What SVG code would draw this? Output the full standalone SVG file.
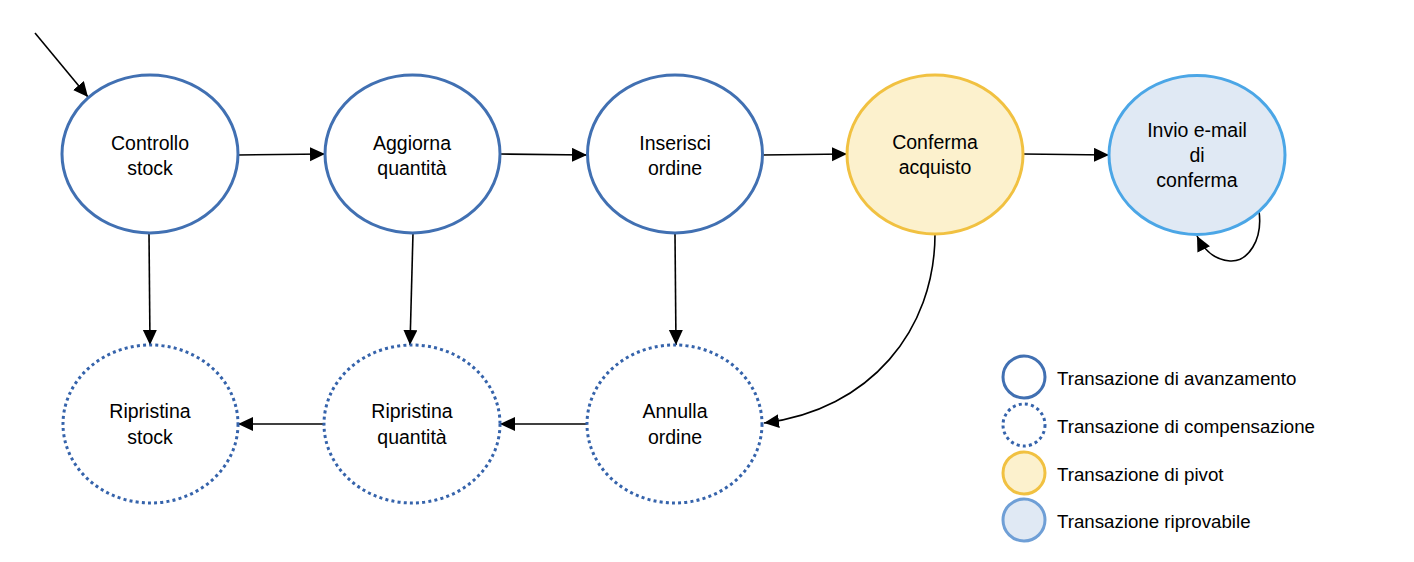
<svg xmlns="http://www.w3.org/2000/svg" width="1414" height="562" viewBox="0 0 1414 562">
<style>
text{font-family:"Liberation Sans",Arial,sans-serif;font-size:19.5px;fill:#000;text-anchor:middle}
.fw{fill:#fff;stroke:#4170b2;stroke-width:3}
.cmp{fill:#fff;stroke:#3563ab;stroke-width:3;stroke-dasharray:3 3.2}
.piv{fill:#fcf1cd;stroke:#f1c141;stroke-width:3}
.rt{fill:#e0e9f4;stroke:#4ba6e6;stroke-width:3}
.rtl{fill:#e0e9f4;stroke:#6f9fd6;stroke-width:3}
.c{fill:none;stroke:#000;stroke-width:1.6;marker-end:url(#ah)}
.lg{text-anchor:start;font-size:18.7px}
</style>
<defs>
<marker id="ah" markerUnits="userSpaceOnUse" markerWidth="16" markerHeight="15" refX="15" refY="7" orient="auto">
<path d="M0,0 L15,7 L0,14 z" fill="#000"/>
</marker>
</defs>
<rect width="1414" height="562" fill="#fff"/>
<g id="connectors">
<path class="c" d="M35,33 L88,97"/>
<path class="c" d="M238,155 L325,154"/>
<path class="c" d="M500,154 L587,155"/>
<path class="c" d="M762,155 L847,154"/>
<path class="c" d="M1023,154 L1109,155"/>
<path class="c" d="M149,233 L150,345"/>
<path class="c" d="M413,233 L410,345"/>
<path class="c" d="M675,234 L676,345"/>
<path class="c" d="M935,234 C935,330 870,410 764,423"/>
<path class="c" d="M1259,211 C1263,240 1248,262 1230,261 C1215,260 1204,250 1197,236"/>
<path class="c" d="M587,424 L500,424"/>
<path class="c" d="M324,424 L238,424"/>
</g>
<g id="controllo-stock"><ellipse class="fw" cx="150" cy="154" rx="88" ry="79"/><text x="150" y="150">Controllo</text><text x="150" y="175">stock</text></g>
<g id="aggiorna-quantita"><ellipse class="fw" cx="412.5" cy="154" rx="87.5" ry="79"/><text x="412" y="150">Aggiorna</text><text x="412" y="175">quantità</text></g>
<g id="inserisci-ordine"><ellipse class="fw" cx="675" cy="154" rx="87.5" ry="79"/><text x="675" y="150">Inserisci</text><text x="675" y="175">ordine</text></g>
<g id="conferma-acquisto"><ellipse class="piv" cx="935" cy="154.5" rx="88" ry="79.5"/><text x="935" y="149">Conferma</text><text x="935" y="174">acquisto</text></g>
<g id="invio-email"><ellipse class="rt" cx="1197" cy="155" rx="88" ry="79.5"/><text x="1197" y="137">Invio e-mail</text><text x="1197" y="162">di</text><text x="1197" y="187">conferma</text></g>
<g id="ripristina-stock"><ellipse class="cmp" cx="150.5" cy="424" rx="87.5" ry="79"/><text x="150" y="418">Ripristina</text><text x="150" y="444">stock</text></g>
<g id="ripristina-quantita"><ellipse class="cmp" cx="412" cy="424" rx="88" ry="79"/><text x="412" y="418">Ripristina</text><text x="412" y="444">quantità</text></g>
<g id="annulla-ordine"><ellipse class="cmp" cx="674.5" cy="424" rx="87.5" ry="79"/><text x="675" y="418">Annulla</text><text x="675" y="444">ordine</text></g>
<g id="legend">
<circle class="fw" cx="1024" cy="377" r="21"/><text class="lg" x="1057" y="385">Transazione di avanzamento</text>
<circle class="cmp" cx="1024" cy="425" r="21"/><text class="lg" x="1057" y="433">Transazione di compensazione</text>
<circle class="piv" cx="1024" cy="473" r="21"/><text class="lg" x="1057" y="481">Transazione di pivot</text>
<circle class="rtl" cx="1024" cy="520" r="21"/><text class="lg" x="1057" y="528">Transazione riprovabile</text>
</g>
</svg>
